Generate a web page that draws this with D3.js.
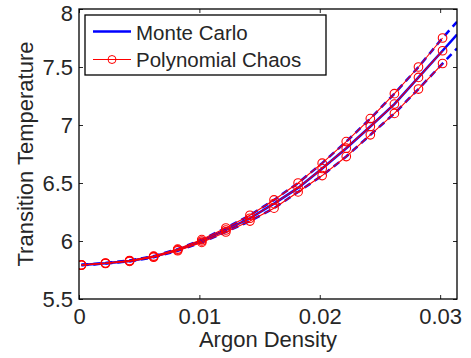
<!DOCTYPE html>
<html><head><meta charset="utf-8">
<script src="https://cdn.jsdelivr.net/npm/d3@7"></script>
<style>body{margin:0;background:#fff}text{font-family:"Liberation Sans",Arial,sans-serif;fill:#262626}</style>
</head><body><svg id="c" width="471" height="358"></svg>
<script>
// Polynomial Chaos samples
const xPC = [0.0002,0.0022,0.0042,0.0062,0.0082,0.0102,0.0122,0.0142,0.0162,0.0182,0.0202,0.0222,0.0242,0.0262,0.0282,0.0302];
const pcMean  = [5.793,5.808,5.828,5.865,5.923,6.000,6.095,6.196,6.322,6.458,6.625,6.800,6.987,7.180,7.410,7.640];
const pcUpper = [5.795,5.810,5.832,5.870,5.930,6.012,6.112,6.222,6.354,6.500,6.671,6.857,7.055,7.270,7.500,7.750];
const pcLower = [5.791,5.806,5.824,5.860,5.916,5.988,6.078,6.172,6.283,6.423,6.564,6.728,6.915,7.100,7.310,7.530];
// Monte Carlo samples
const xMC = [0.0002,0.0022,0.0042,0.0062,0.0082,0.0102,0.0122,0.0142,0.0162,0.0182,0.0202,0.0222,0.0242,0.0262,0.0282,0.0302,0.0314];
const mcMean  = [5.793,5.808,5.828,5.865,5.923,6.000,6.095,6.196,6.322,6.458,6.625,6.800,6.987,7.180,7.410,7.640,7.780];
const mcUpper = [5.795,5.810,5.832,5.870,5.930,6.012,6.112,6.222,6.354,6.500,6.671,6.857,7.055,7.270,7.500,7.750,7.890];
const mcLower = [5.791,5.806,5.824,5.860,5.916,5.988,6.078,6.172,6.283,6.423,6.564,6.728,6.915,7.100,7.310,7.530,7.660];
const xTicks = [0,0.01,0.02,0.03];
const xTickLabels = ["0","0.01","0.02","0.03"];
const yTicks = [5.5,6,6.5,7,7.5,8];
const yTickLabels = ["5.5","6","6.5","7","7.5","8"];
const legendLabels = ["Monte Carlo","Polynomial Chaos"];

const L=79,R=457,T=9,B=299;
const svg=d3.select("#c");
const x=d3.scaleLinear().domain([0,0.0314]).range([L,R]);
const y=d3.scaleLinear().domain([5.5,8]).range([B,T]);
const fs=22;

svg.append("defs").append("clipPath").attr("id","clip").append("rect").attr("x",L).attr("y",T).attr("width",R-L).attr("height",B-T);
const plot=svg.append("g").attr("clip-path","url(#clip)");

const line=(xs,ys)=>d3.line().x((d,i)=>x(xs[i])).y(d=>y(d))(ys);
// Monte Carlo
plot.append("path").attr("d",line(xMC,mcUpper)).attr("fill","none").attr("stroke","#0000ff").attr("stroke-width",2.5).attr("stroke-dasharray","7,5");
plot.append("path").attr("d",line(xMC,mcLower)).attr("fill","none").attr("stroke","#0000ff").attr("stroke-width",2.5).attr("stroke-dasharray","7,5");
plot.append("path").attr("d",line(xMC,mcMean)).attr("fill","none").attr("stroke","#0000ff").attr("stroke-width",2.5);
// Polynomial chaos
[pcUpper,pcMean,pcLower].forEach(s=>{
  plot.append("path").attr("d",line(xPC,s)).attr("fill","none").attr("stroke","#ff0000").attr("stroke-width",1.1);
  plot.selectAll(null).data(s).enter().append("circle")
    .attr("cx",(d,i)=>x(xPC[i])).attr("cy",d=>y(d)).attr("r",4.3)
    .attr("fill","none").attr("stroke","#ff0000").attr("stroke-width",1.1);
});

// axes
const ax=svg.append("g");
const xb=d3.axisBottom(x).tickValues(xTicks).tickFormat((d,i)=>xTickLabels[i]).tickSizeInner(-4).tickSizeOuter(0).tickPadding(10);
const gx=ax.append("g").attr("transform",`translate(0,${B})`).call(xb);
const xt=d3.axisTop(x).tickValues(xTicks).tickFormat("").tickSizeInner(-4).tickSizeOuter(0);
const gxt=ax.append("g").attr("transform",`translate(0,${T})`).call(xt);
const yl=d3.axisLeft(y).tickValues(yTicks).tickFormat((d,i)=>yTickLabels[i]).tickSizeInner(-4).tickSizeOuter(0).tickPadding(6);
const gy=ax.append("g").attr("transform",`translate(${L},0)`).call(yl);
const yr=d3.axisRight(y).tickValues(yTicks).tickFormat("").tickSizeInner(-4).tickSizeOuter(0);
const gyr=ax.append("g").attr("transform",`translate(${R},0)`).call(yr);
[gx,gxt,gy,gyr].forEach(g=>{
  g.select(".domain").remove();
  g.selectAll("line").attr("stroke","#262626");
  g.selectAll("text").attr("font-size",fs).style("font-family","'Liberation Sans',Arial,sans-serif").attr("fill","#262626");
});
gx.selectAll("text").attr("dy",null).attr("dominant-baseline","auto").attr("y",25);
gy.selectAll("text").attr("dy",d=>d===8?"0.5em":"0.35em").attr("x",-6);
svg.append("rect").attr("x",L).attr("y",T).attr("width",R-L).attr("height",B-T).attr("fill","none").attr("stroke","#000").attr("stroke-width",1.3);

// labels
svg.append("text").attr("x",(L+R)/2).attr("y",347).attr("text-anchor","middle").attr("font-size",fs).text("Argon Density");
svg.append("text").attr("transform",`translate(33,${(T+B)/2}) rotate(-90)`).attr("text-anchor","middle").attr("font-size",fs).text("Transition Temperature");

// legend
const lg=svg.append("g");
lg.append("rect").attr("x",85).attr("y",15).attr("width",241).attr("height",60).attr("fill","#fff").attr("stroke","#000").attr("stroke-width",1.3);
lg.append("line").attr("x1",93).attr("x2",131).attr("y1",31.5).attr("y2",31.5).attr("stroke","#0000ff").attr("stroke-width",2.5);
lg.append("line").attr("x1",93).attr("x2",131).attr("y1",59.5).attr("y2",59.5).attr("stroke","#ff0000").attr("stroke-width",1);
lg.append("circle").attr("cx",112).attr("cy",59.5).attr("r",4).attr("fill","none").attr("stroke","#ff0000");
lg.append("text").attr("x",136).attr("y",39.5).attr("font-size",fs-1.5).text(legendLabels[0]);
lg.append("text").attr("x",136).attr("y",67).attr("font-size",fs-1.5).text(legendLabels[1]);
</script></body></html>
